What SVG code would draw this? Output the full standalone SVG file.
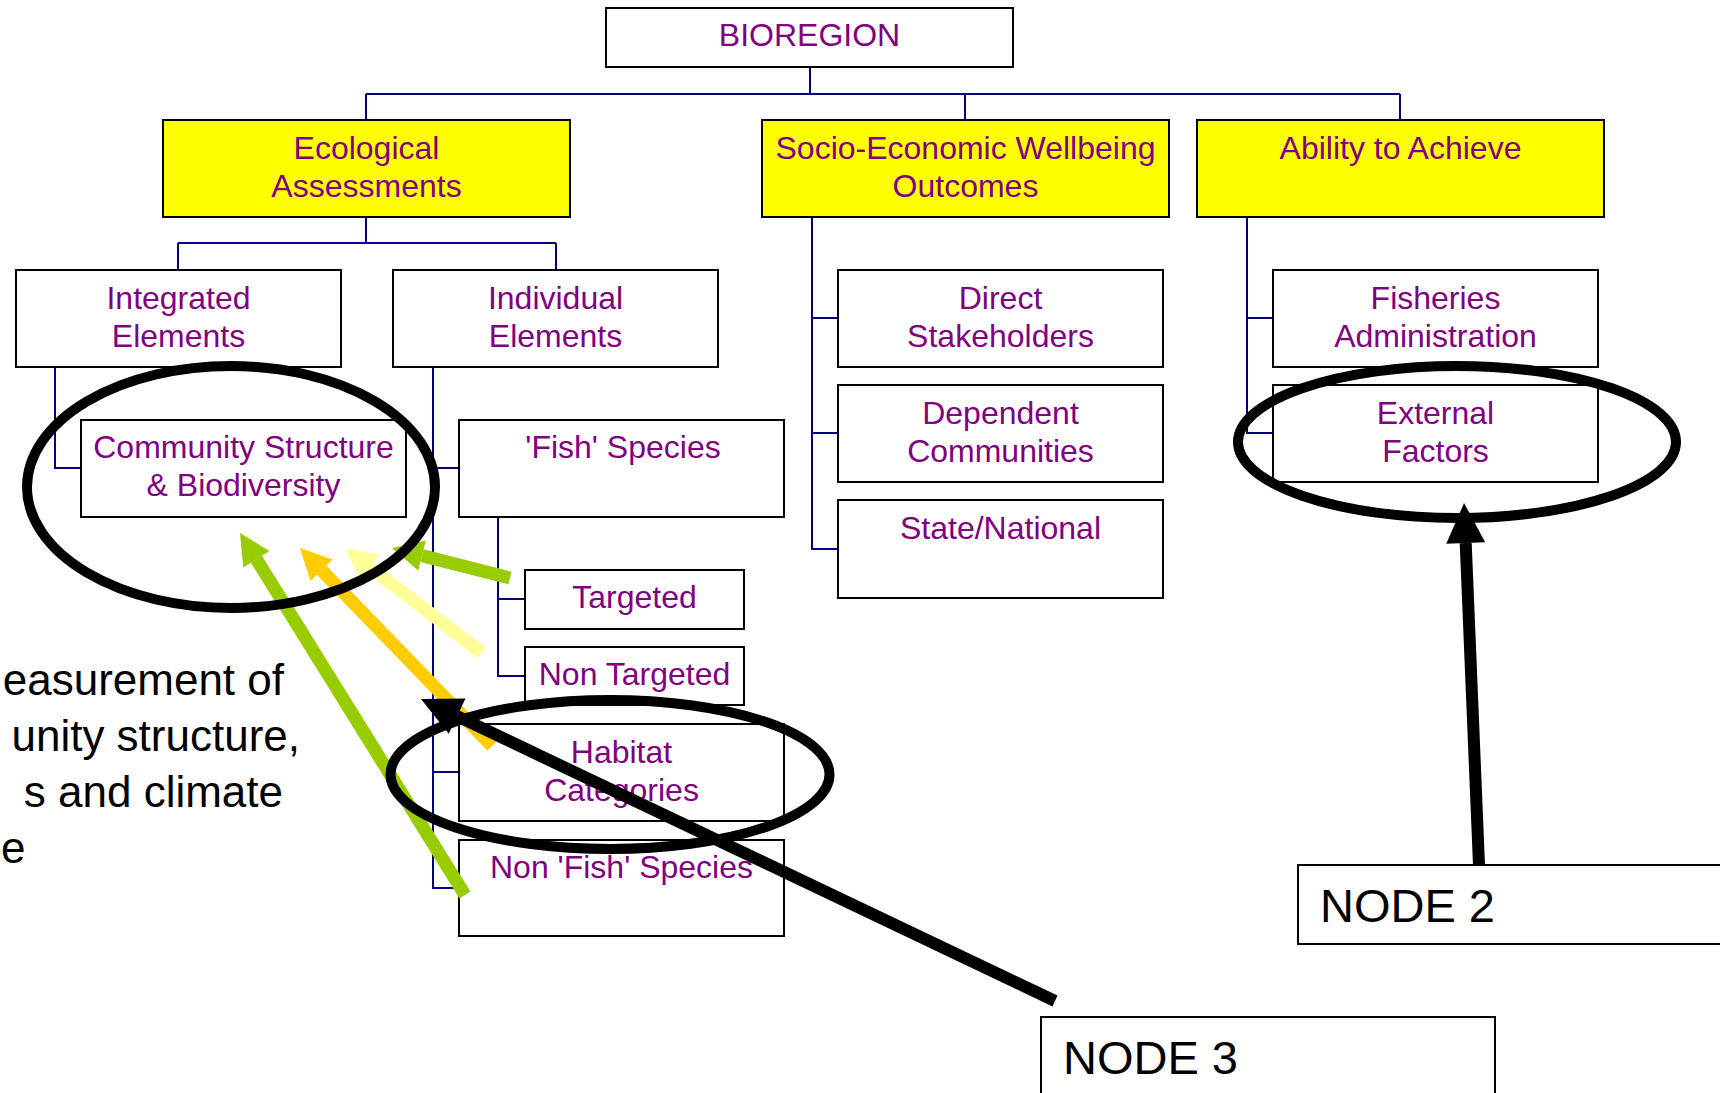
<svg xmlns="http://www.w3.org/2000/svg" width="1720" height="1093" viewBox="0 0 1720 1093">
<style>
.box{fill:#ffffff;stroke:#000000;stroke-width:2}
.ybox{fill:#ffff00;stroke:#000000;stroke-width:2}
.lbl{font-family:"Liberation Sans",Arial,sans-serif;font-size:32px;fill:#800080;text-anchor:middle}
.big{font-family:"Liberation Sans",Arial,sans-serif;font-size:44px;fill:#000000;text-anchor:end}
.nd{font-family:"Liberation Sans",Arial,sans-serif;font-size:47px;fill:#000000}
.conn{fill:none;stroke:#000080;stroke-width:2}
.ring{fill:none;stroke:#000000;stroke-width:10}
</style>
<defs>
<marker id="hGreen" markerUnits="userSpaceOnUse" markerWidth="32" markerHeight="32" viewBox="0 -16 32 32" refX="0" refY="0" orient="auto" overflow="visible"><path d="M0,-15.5 L31,0 L0,15.5 z" fill="#99cc00"/></marker>
<marker id="hOrange" markerUnits="userSpaceOnUse" markerWidth="32" markerHeight="32" viewBox="0 -16 32 32" refX="0" refY="0" orient="auto" overflow="visible"><path d="M0,-15.5 L31,0 L0,15.5 z" fill="#ffcc00"/></marker>
<marker id="hYellow" markerUnits="userSpaceOnUse" markerWidth="32" markerHeight="32" viewBox="0 -16 32 32" refX="0" refY="0" orient="auto" overflow="visible"><path d="M0,-15.5 L31,0 L0,15.5 z" fill="#ffff99"/></marker>
<marker id="hBlack" markerUnits="userSpaceOnUse" markerWidth="41" markerHeight="41" viewBox="0 -20 41 40" refX="0" refY="0" orient="auto" overflow="visible"><path d="M0,-19.5 L40,0 L0,19.5 z" fill="#000000"/></marker>
</defs>
<rect x="0" y="0" width="1720" height="1093" fill="#ffffff"/>

<g id="connectors">
<path class="conn" d="M810,67 V94 M366,94 H1400 M366,94 V120 M965,94 V120 M1400,94 V120"/>
<path class="conn" d="M366,217 V243 M178,243 H556 M178,243 V270 M556,243 V270"/>
<path class="conn" d="M55,367 V468 H81"/>
<path class="conn" d="M433,367 V888 H459 M433,468 H459 M433,772 H459"/>
<path class="conn" d="M498,517 V676 H525 M498,599 H525"/>
<path class="conn" d="M812,217 V549 H838 M812,318 H838 M812,433 H838"/>
<path class="conn" d="M1247,217 V433 H1273 M1247,318 H1273"/>
</g>

<g id="bioregion"><rect class="box" x="606" y="8" width="407" height="59"/><text class="lbl" x="809.5" y="46">BIOREGION</text></g>
<g id="ecological"><rect class="ybox" x="163" y="120" width="407" height="97"/><text class="lbl" x="366.5" y="159">Ecological</text><text class="lbl" x="366.5" y="197">Assessments</text></g>
<g id="socio"><rect class="ybox" x="762" y="120" width="407" height="97"/><text class="lbl" x="965.5" y="159">Socio-Economic Wellbeing</text><text class="lbl" x="965.5" y="197">Outcomes</text></g>
<g id="ability"><rect class="ybox" x="1197" y="120" width="407" height="97"/><text class="lbl" x="1400.5" y="159">Ability to Achieve</text></g>
<g id="integrated"><rect class="box" x="16" y="270" width="325" height="97"/><text class="lbl" x="178.5" y="309">Integrated</text><text class="lbl" x="178.5" y="347">Elements</text></g>
<g id="individual"><rect class="box" x="393" y="270" width="325" height="97"/><text class="lbl" x="555.5" y="309">Individual</text><text class="lbl" x="555.5" y="347">Elements</text></g>
<g id="community"><rect class="box" x="81" y="420" width="325" height="97"/><text class="lbl" x="243.5" y="458">Community Structure</text><text class="lbl" x="243.5" y="496">&amp; Biodiversity</text></g>
<g id="fish"><rect class="box" x="459" y="420" width="325" height="97"/><text class="lbl" x="623" y="458">'Fish' Species</text></g>
<g id="targeted"><rect class="box" x="525" y="570" width="219" height="59"/><text class="lbl" x="634.5" y="608">Targeted</text></g>
<g id="nontargeted"><rect class="box" x="525" y="647" width="219" height="58"/><text class="lbl" x="634.5" y="685">Non Targeted</text></g>
<g id="habitat"><rect class="box" x="459" y="724" width="325" height="97"/><text class="lbl" x="621.5" y="763">Habitat</text><text class="lbl" x="621.5" y="801">Categories</text></g>
<g id="nonfish"><rect class="box" x="459" y="840" width="325" height="96"/><text class="lbl" x="621.5" y="878">Non 'Fish' Species</text></g>
<g id="direct"><rect class="box" x="838" y="270" width="325" height="97"/><text class="lbl" x="1000.5" y="309">Direct</text><text class="lbl" x="1000.5" y="347">Stakeholders</text></g>
<g id="dependent"><rect class="box" x="838" y="385" width="325" height="97"/><text class="lbl" x="1000.5" y="424">Dependent</text><text class="lbl" x="1000.5" y="462">Communities</text></g>
<g id="state"><rect class="box" x="838" y="500" width="325" height="98"/><text class="lbl" x="1000.5" y="539">State/National</text></g>
<g id="fisheries"><rect class="box" x="1273" y="270" width="325" height="97"/><text class="lbl" x="1435.5" y="309">Fisheries</text><text class="lbl" x="1435.5" y="347">Administration</text></g>
<g id="external"><rect class="box" x="1273" y="385" width="325" height="97"/><text class="lbl" x="1435.5" y="424">External</text><text class="lbl" x="1435.5" y="462">Factors</text></g>

<g id="note">
<text class="big" x="284" y="695">easurement of</text>
<text class="big" x="300" y="751">unity structure,</text>
<text class="big" x="283" y="807">s and climate</text>
<text class="big" x="1" y="863" text-anchor="start" style="text-anchor:start">e</text>
</g>

<g id="colored-arrows" fill="none" stroke-width="13">
<path d="M465,895 L256.4,559.3" stroke="#99cc00" marker-end="url(#hGreen)"/>
<path d="M492,746 L321.6,570.3" stroke="#ffcc00" marker-end="url(#hOrange)"/>
<path d="M482,653 L369.6,566.9" stroke="#ffff99" marker-end="url(#hYellow)"/>
<path d="M510,578 L422,555.6" stroke="#99cc00" marker-end="url(#hGreen)"/>
</g>

<g id="highlights">
<ellipse class="ring" cx="231" cy="487" rx="204" ry="121"/>
<ellipse class="ring" cx="610" cy="774.5" rx="219.5" ry="74.5"/>
<ellipse class="ring" cx="1457" cy="442" rx="219" ry="76"/>
</g>

<g id="node2"><rect class="box" x="1298" y="865" width="432" height="79"/><text class="nd" x="1320" y="922">NODE 2</text></g>
<g id="node3"><rect class="box" x="1041" y="1017" width="454" height="90"/><text class="nd" x="1063" y="1074">NODE 3</text></g>

<g id="pointer-arrows" fill="none" stroke="#000000" stroke-width="12">
<path d="M1479,865 L1465.7,543" marker-end="url(#hBlack)"/>
<path d="M1055,1001 L457.1,716.2" marker-end="url(#hBlack)"/>
</g>
</svg>
